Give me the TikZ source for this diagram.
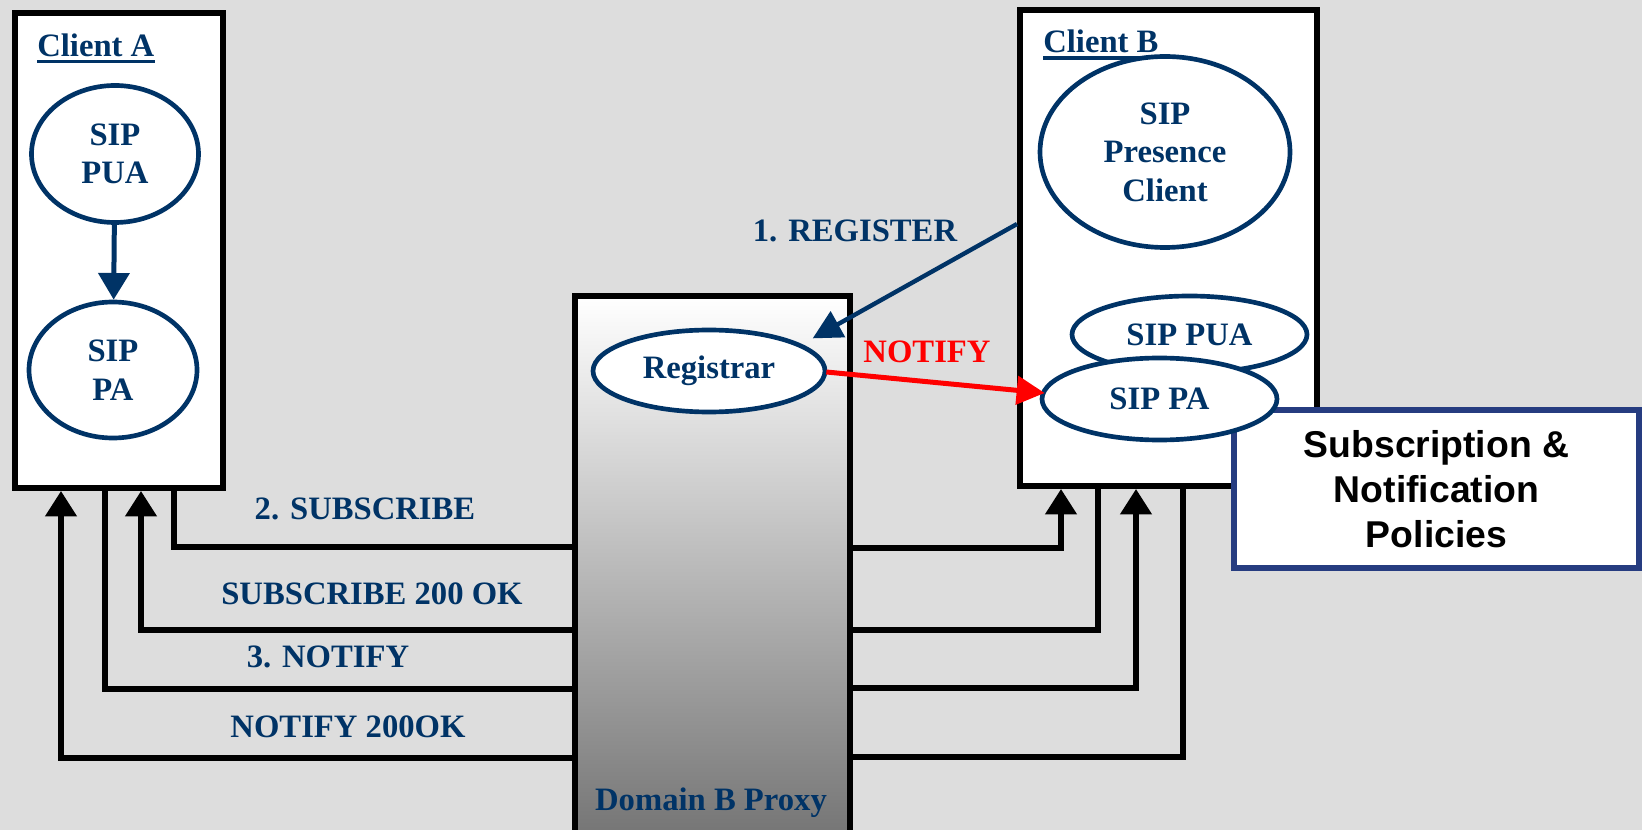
\documentclass[tikz,border=0pt]{standalone}
\usepackage{fontspec}
\setmainfont{Liberation Serif}
\newfontfamily\policyfont{Liberation Sans}
\usetikzlibrary{arrows.meta,shapes.geometric,calc}

\newlength\px
\setlength\px{0.75pt}
\definecolor{sipnavy}{RGB}{0,51,102}
\definecolor{policyblue}{RGB}{38,60,128}
\definecolor{canvasgray}{RGB}{221,221,221}

\begin{document}
\begin{tikzpicture}[x=0.75pt,y=0.75pt,yscale=-1,xscale=1,
    lbl/.style={font=\fontsize{24.5pt}{28.8pt}\selectfont\bfseries, text=sipnavy, inner sep=0pt},
    hostbox/.style={draw=black, line width=4.5pt, fill=white, inner sep=0pt},
    agent/.style={ellipse, draw=sipnavy, line width=3.5pt, fill=white, align=center, lbl},
    wire/.style={draw=black, line width=4pt},
    wirehead/.style={wire, -{Triangle[length=19pt,width=23pt]}},
    policybox/.style={draw=policyblue, line width=4.2pt, fill=white, inner sep=0pt, align=center,
        font=\policyfont\fontsize{28pt}{33.75pt}\selectfont\bfseries}
    ]
        \useasboundingbox (0,0) rectangle (1642,830);
        \fill[canvasgray] (0,0) rectangle (1642,830);
        \clip (0,0) rectangle (1642,830);

        %Shape: Rectangle (proxy)
        \node[hostbox, top color=white, bottom color=black!55, minimum width=275*\px, minimum height=549*\px] (proxy) at (712.5,570.5) {};
        %Shape: Ellipse
        \node[agent, minimum width=232*\px, minimum height=82*\px] (registrar) at (709,371) {Registrar};
        % Text Node
        \node[lbl, anchor=base] (proxylbl) at (711,810) {Domain B Proxy};

        %Shape: Rectangle (client A)
        \node[hostbox, minimum width=208*\px, minimum height=475*\px] (clientA) at (119,250.5) {};
        % Text Node
        \node[lbl, anchor=base west] (clientAlbl) at (37,57) {Client A};
        \draw[sipnavy, line width=2.4pt] ($(clientAlbl.base west)+(0,4.5)$) -- ($(clientAlbl.base east)+(0,4.5)$);
        %Shape: Ellipse
        \node[agent, minimum width=167*\px, minimum height=137*\px] (puaA) at (115,154) {SIP\\PUA};
        \node[agent, minimum width=168*\px, minimum height=136*\px] (paA) at (113,370) {SIP\\PA};
        %Straight Lines
        \draw[sipnavy, line width=3.75pt, -{Triangle[length=20pt,width=23pt]}] (puaA) -- (paA);

        %Shape: Rectangle (client B)
        \node[hostbox, minimum width=297*\px, minimum height=476*\px] (clientB) at (1168.5,248) {};
        % Text Node
        \node[lbl, anchor=base west] (clientBlbl) at (1043,53) {Client B};
        \draw[sipnavy, line width=2.4pt] ($(clientBlbl.base west)+(0,5)$) -- ($(clientBlbl.base east)+(0,5)$);
        %Shape: Ellipse
        \node[agent, minimum width=250*\px, minimum height=191*\px] (presence) at (1165,152) {SIP\\Presence\\Client};
        \node[agent, minimum width=235*\px, minimum height=77*\px] (puaB) at (1189.5,334.5) {SIP PUA};

        %Shape: Rectangle (policies)
        \node[policybox, minimum width=405*\px, minimum height=158*\px] (policies) at (1436.5,489) {Subscription \&\\Notification\\Policies};
        %Shape: Ellipse
        \node[agent, minimum width=235*\px, minimum height=82*\px] (paB) at (1159.5,399) {SIP PA};

        %Straight Lines
        \draw[sipnavy, line width=3.3pt, -{Triangle[length=21.75pt,width=21.75pt]}] ($(clientB.west)+(0,-24)$) -- ($(registrar.north east)+(20,-2)$);
        \draw[red, line width=3.75pt, -{Triangle[length=21pt,width=21pt]}] ($(registrar.east)+(-1,1)$) -- ($(paB.west)+(5,-6)$);
        % Text Node
        \node[lbl, anchor=base] (reglbl) at (855,242) {1. REGISTER};
        \node[lbl, anchor=base, text=red] (notifylbl) at (927,363) {NOTIFY};

        % elbow wires, left side
        \coordinate (a1) at (174,547);
        \coordinate (a2) at (141,630);
        \coordinate (a3) at (105,689);
        \coordinate (a4) at (61,758);
        \draw[wire] (proxy.west |- a1) -| (clientA.south -| a1);
        \draw[wirehead] (proxy.west |- a2) -| (clientA.south -| a2);
        \draw[wire] (proxy.west |- a3) -| (clientA.south -| a3);
        \draw[wirehead] (proxy.west |- a4) -| (clientA.south -| a4);

        % elbow wires, right side
        \coordinate (b1) at (1061,548);
        \coordinate (b2) at (1098,630);
        \coordinate (b3) at (1136,688);
        \coordinate (b4) at (1183,757);
        \draw[wirehead] (proxy.east |- b1) -| (clientB.south -| b1);
        \draw[wire] (proxy.east |- b2) -| (clientB.south -| b2);
        \draw[wirehead] (proxy.east |- b3) -| (clientB.south -| b3);
        \draw[wire] (proxy.east |- b4) -| (clientB.south -| b4);

        % Text Node
        \node[lbl, anchor=base] (sublbl) at (365,519) {2. SUBSCRIBE};
        \node[lbl, anchor=base] (suboklbl) at (372,604) {SUBSCRIBE 200 OK};
        \node[lbl, anchor=base] (notlbl) at (328,667) {3. NOTIFY};
        \node[lbl, anchor=base] (notoklbl) at (348,737) {NOTIFY 200OK};
\end{tikzpicture}
\end{document}
